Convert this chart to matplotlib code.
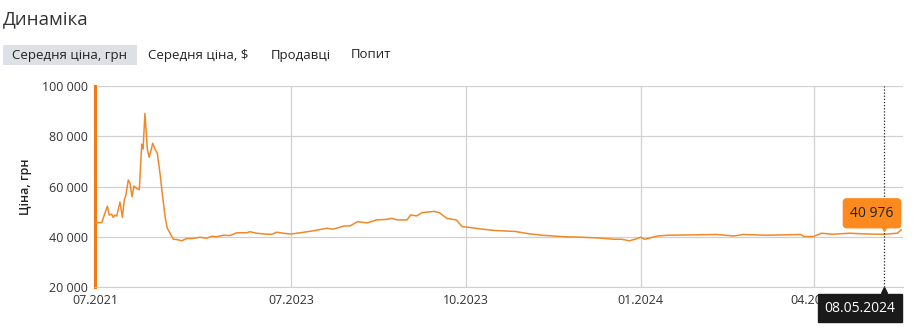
import numpy as np
import matplotlib
matplotlib.use("Agg")
import matplotlib.pyplot as plt
import matplotlib.dates as mdates
import matplotlib.transforms as mtransforms
from matplotlib.patches import FancyBboxPatch

plt.rcParams['font.family'] = ['Open Sans', 'DejaVu Sans']

# ---------------- data ----------------
dates = [
    "2021-07-01", "2021-07-26", "2021-08-16", "2021-08-23", "2021-09-01", "2021-09-07",
    "2021-09-13", "2021-09-20", "2021-10-02", "2021-10-11", "2021-10-18", "2021-10-24",
    "2021-11-02", "2021-11-08", "2021-11-16", "2021-11-23", "2021-12-03", "2021-12-13",
    "2021-12-22", "2021-12-27", "2022-01-03", "2022-01-12", "2022-01-19", "2022-02-01",
    "2022-02-09", "2022-02-18", "2022-02-28", "2022-03-10", "2022-03-19", "2022-03-27",
    "2022-04-06", "2022-04-19", "2022-05-01", "2022-05-20", "2022-06-07", "2022-06-27",
    "2022-07-27", "2022-08-21", "2022-09-10", "2022-09-27", "2022-10-22", "2022-11-16",
    "2022-12-11", "2023-01-17", "2023-01-29", "2023-02-23", "2023-04-01", "2023-04-20",
    "2023-05-09", "2023-06-02", "2023-07-01", "2023-07-06", "2023-07-13", "2023-07-20",
    "2023-07-23", "2023-07-29", "2023-08-01", "2023-08-05", "2023-08-10", "2023-08-15",
    "2023-08-20", "2023-08-23", "2023-08-26", "2023-08-31", "2023-09-02", "2023-09-05",
    "2023-09-08", "2023-09-14", "2023-09-17", "2023-09-21", "2023-09-26", "2023-09-29",
    "2023-10-02", "2023-10-09", "2023-10-16", "2023-10-27", "2023-11-03", "2023-11-10",
    "2023-11-22", "2023-12-01", "2023-12-10", "2023-12-18", "2023-12-22", "2023-12-26",
    "2023-12-29", "2024-01-01", "2024-01-03", "2024-01-10", "2024-01-15", "2024-02-01",
    "2024-02-10", "2024-02-19", "2024-02-24", "2024-03-07", "2024-03-25", "2024-03-27",
    "2024-04-01", "2024-04-05", "2024-04-11", "2024-04-20", "2024-04-29", "2024-05-08",
    "2024-05-15", "2024-05-17",
]
prices = [
    45600, 45600, 52200, 48600, 49000, 47700,
    48600, 48200, 53800, 47700, 54600, 56600,
    62600, 61400, 55900, 60200, 59200, 58700,
    76800, 74900, 89100, 74800, 71600, 77200,
    75000, 73200, 65300, 55900, 48000, 43400,
    41500, 39000, 38900, 38400, 39300, 39300,
    39800, 39400, 40200, 40000, 40600, 40500,
    41600, 41600, 42000, 41400, 41000, 41000,
    41800, 41400, 41100, 41600, 42400, 43400,
    43000, 44300, 44300, 46000, 45500, 46700,
    46900, 47300, 46700, 46700, 48700, 48300,
    49600, 50100, 49600, 47300, 46700, 44000,
    43800, 43100, 42500, 42100, 41200, 40600,
    40000, 39800, 39500, 39000, 39000, 38400,
    39000, 39800, 39000, 40300, 40600, 40800,
    40900, 40300, 40900, 40600, 40900, 40100,
    40100, 41400, 41000, 41400, 41100, 40976,
    41400, 42700,
]
tick_dates = ["2021-07-01", "2023-07-01", "2023-10-01", "2024-01-01", "2024-04-01"]
tick_labels = ["07.2021", "07.2023", "10.2023", "01.2024", "04.2024"]
y_ticks = [20000, 40000, 60000, 80000, 100000]
tabs = ["Середня ціна, грн", "Середня ціна, $", "Продавці", "Попит"]
sel_date = "2024-05-08"
sel_value = 40976
sel_label = "08.05.2024"

# ---------------- scale: weekly history compressed ----------------
D0 = mdates.datestr2num("2023-07-01")
K_EARLY = 196.0 / 730.0
K_LATE = 1.9

def fwd(d):
    d = np.asarray(d, dtype=float)
    return np.where(d < D0, (d - D0) * K_EARLY, (d - D0) * K_LATE)

def inv(s):
    s = np.asarray(s, dtype=float)
    return np.where(s < 0, s / K_EARLY + D0, s / K_LATE + D0)

x = mdates.datestr2num(dates)

fig = plt.figure(figsize=(9.2, 3.36), dpi=100)
W, H = 920, 336
ax = fig.add_axes([95 / W, (H - 287) / H, (903 - 95) / W, (287 - 86) / H])
ax.set_xscale('function', functions=(fwd, inv))

line_color = '#f0892a'
ax.plot(x, prices, color=line_color, lw=1.1, zorder=3)

ax.set_xlim(mdates.datestr2num("2021-07-01"), mdates.datestr2num("2024-05-18"))
ax.set_ylim(20000, 100000)

ax.set_xticks(mdates.datestr2num(tick_dates))
ax.set_xticklabels(tick_labels)
ax.set_yticks(y_ticks)
ax.set_yticklabels([f"{v:,}".replace(",", " ") for v in y_ticks])
ax.xaxis.set_minor_locator(matplotlib.ticker.NullLocator())

ax.grid(True, color='#d0d0d0', lw=0.9)
ax.set_axisbelow(True)
for s in ['top', 'right']:
    ax.spines[s].set_visible(False)
ax.spines['bottom'].set_color('#d0d0d0')
ax.spines['left'].set_color('#f07b12')
ax.spines['left'].set_linewidth(2.2)
ax.tick_params(axis='both', length=0, labelsize=9, colors='#333333')
ax.tick_params(axis='x', pad=5)
ax.tick_params(axis='y', pad=5)
ax.set_ylabel("Ціна, грн", fontsize=9, fontweight='semibold', color='#222222')
ax.yaxis.set_label_coords((32 - 95) / 808, 0.5)

# crosshair
sx = mdates.datestr2num(sel_date)
ax.axvline(sx, color='#222222', lw=0.9, ls=(0, (1, 1.5)), zorder=4)

# value tooltip
ax.annotate(f"{sel_value:,}".replace(",", " "), xy=(sx, sel_value), xycoords='data',
            xytext=(-12, 21), textcoords='offset pixels', ha='center', va='center',
            fontsize=10, color='#222222', zorder=6,
            bbox=dict(boxstyle='round,pad=0.5,rounding_size=0.25', fc='#fd8a1f', ec='#fd8a1f'))
tri_tr = mtransforms.offset_copy(ax.transData, fig=fig, x=0, y=6, units='dots')
ax.plot([sx], [sel_value], marker='v', ms=5, color='#fd8a1f', transform=tri_tr,
        clip_on=False, zorder=6)

# date tooltip
blend = mtransforms.blended_transform_factory(ax.transData, ax.transAxes)
ax.annotate(sel_label, xy=(sx, 0), xycoords=blend, xytext=(-24, -21),
            textcoords='offset pixels', ha='center', va='center', fontsize=10,
            color='white', zorder=7, annotation_clip=False,
            bbox=dict(boxstyle='square,pad=0.45', fc='#1a1a1a', ec='#1a1a1a'))
tri2 = mtransforms.offset_copy(blend, fig=fig, x=0, y=-3, units='dots')
ax.plot([sx], [0], marker='^', ms=4, color='#1a1a1a', transform=tri2,
        clip_on=False, zorder=7)

# title and tabs
fig.text(3 / W, 1 - 19 / H, "Динаміка", fontsize=13.5, color='#333333', ha='left', va='center')
tab_x = [12, 148, 271, 351]
fig.patches.append(FancyBboxPatch((3 / W, 1 - 65 / H), 134 / W, 20 / H,
                                  boxstyle='square,pad=0', fc='#dde1e6', ec='none',
                                  transform=fig.transFigure, figure=fig))
for tx, t in zip(tab_x, tabs):
    fig.text(tx / W, 1 - 55 / H, t, fontsize=9.5, color='#222222', ha='left', va='center')

fig.savefig("out.png", dpi=100)
